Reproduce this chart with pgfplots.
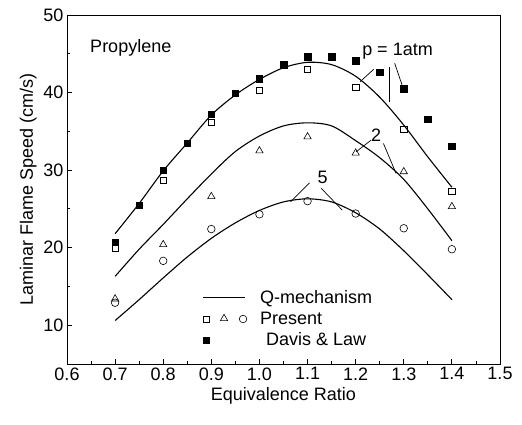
\documentclass[border=0pt]{standalone}
\usepackage{fontspec}
\setmainfont{Liberation Sans}
\usepackage{pgfplots}
\pgfplotsset{compat=1.18}
\newcommand\fs{\fontsize{18bp}{21bp}\selectfont}

\begin{document}
\begin{tikzpicture}[font=\fs]
\useasboundingbox (-67bp,-61bp) rectangle (455bp,364bp);
\begin{axis}[
  scale only axis,
  width=433bp,height=349bp,
  xmin=0.6,xmax=1.5,ymin=5,ymax=50,
  xtick={0.6,0.7,...,1.5},
  ytick={10,20,...,50},
  minor x tick num=1,minor y tick num=1,
  tick align=inside,
  xtick pos=bottom,ytick pos=left,
  major tick length=5bp,minor tick length=3bp,
  axis line style={line width=0.9bp},
  every tick/.style={line width=0.8bp,black},
  /pgf/number format/assume math mode=true,
  x tick label style={font=\fs,/pgf/number format/.cd,fixed,fixed zerofill,precision=1},
  y tick label style={font=\fs},
  xlabel={Equivalence Ratio},
  ylabel={Laminar Flame Speed (cm/s)},
  label style={font=\fs},
  legend cell align=left,
  legend style={draw=none,fill=none,font=\fs,
    at={(axis cs:0.875,14.95)},anchor=north west,
    row sep=4bp,nodes={inner sep=1.5bp}},
]
% Q-mechanism curves
\addplot[black,line width=1.1bp,smooth,
  legend image code/.code={\draw[black,line width=1.1bp] (0bp,0bp) -- (42bp,0bp);
    \path (55bp,0bp);}] coordinates {
 (0.70,21.8)(0.75,25.7)(0.80,29.9)(0.85,33.5)(0.90,37.1)(0.95,39.7)(1.00,41.7)
 (1.05,43.2)(1.10,43.9)(1.15,43.6)(1.20,42.1)(1.25,39.4)(1.30,35.8)(1.35,31.7)(1.40,27.8)};
\addplot[black,line width=1.1bp,smooth,forget plot] coordinates {
 (0.70,16.3)(0.75,19.8)(0.80,23.0)(0.85,26.3)(0.90,29.5)(0.95,32.4)(1.00,34.4)
 (1.05,35.7)(1.10,36.1)(1.15,35.7)(1.20,33.8)(1.25,31.6)(1.30,28.8)(1.35,25.0)(1.40,20.9)};
\addplot[black,line width=1.1bp,smooth,forget plot] coordinates {
 (0.70,10.6)(0.75,13.3)(0.80,16.1)(0.85,18.8)(0.90,21.2)(0.95,23.2)(1.00,24.8)
 (1.05,25.9)(1.10,26.3)(1.15,25.9)(1.20,24.5)(1.25,22.4)(1.30,19.6)(1.35,16.5)(1.40,13.3)};
% Present
\addlegendimage{legend image code/.code={
  \draw[black,line width=0.6bp] plot[mark=square,mark size=3.2bp] coordinates {(3bp,0bp)};
  \draw[black,line width=0.6bp] plot[mark=triangle,mark size=4.2bp] coordinates {(21bp,0.5bp)};
  \draw[black,line width=0.6bp] plot[mark=o,mark size=3.8bp] coordinates {(40bp,0bp)};}}
\addplot[only marks,mark=square,mark size=3.2bp,black,line width=0.6bp,mark options={fill=white},forget plot]
 coordinates {(0.7,20.0)(0.8,28.7)(0.9,36.2)(1.0,40.3)(1.1,43.0)(1.2,40.7)(1.3,35.3)(1.4,27.3)};
\addplot[only marks,mark=triangle,mark size=4.2bp,black,line width=0.6bp,forget plot]
 coordinates {(0.7,13.4)(0.8,20.4)(0.9,26.6)(1.0,32.5)(1.1,34.3)(1.2,32.2)(1.3,29.8)(1.4,25.3)};
\addplot[only marks,mark=o,mark size=3.8bp,black,line width=0.6bp,forget plot]
 coordinates {(0.7,12.9)(0.8,18.3)(0.9,22.4)(1.0,24.3)(1.1,26.0)(1.2,24.4)(1.3,22.5)(1.4,19.8)};
% Davis & Law
\addplot[only marks,mark=square*,mark size=3.2bp,black,
  legend image code/.code={\draw[black] plot[mark=square*,mark size=3.2bp] coordinates {(3bp,0bp)};}]
 coordinates {(0.70,20.7)(0.75,25.5)(0.80,30.0)(0.85,33.5)(0.90,37.2)(0.95,39.9)(1.00,41.8)
 (1.05,43.6)(1.10,44.6)(1.15,44.6)(1.20,44.1)(1.25,42.6)(1.30,40.5)(1.35,36.6)(1.40,33.1)};
\legend{Q-mechanism,Present,\hspace{6bp}Davis \& Law}
% annotations
\node[anchor=west] at (axis cs:0.641,45.8) {Propylene};
\node at (axis cs:1.287,45.3) {p = 1atm};
\draw[black,line width=0.7bp] (axis cs:1.2375,43.0) -- (axis cs:1.2093,41.4);
\draw[black,line width=0.7bp] (axis cs:1.2701,43.25) -- (axis cs:1.2701,38.8);
\draw[black,line width=0.7bp] (axis cs:1.2811,43.77) -- (axis cs:1.2965,40.97);
\node at (axis cs:1.2425,34.5) {2};
\draw[black,line width=0.7bp] (axis cs:1.2322,33.87) -- (axis cs:1.2010,32.36);
\draw[black,line width=0.7bp] (axis cs:1.2577,33.44) -- (axis cs:1.2840,29.57);
\node at (axis cs:1.1311,29.1) {5};
\draw[black,line width=0.7bp] (axis cs:1.1041,28.36) -- (axis cs:1.0647,25.9);
\draw[black,line width=0.7bp] (axis cs:1.1286,27.64) -- (axis cs:1.1722,24.84);
\end{axis}
\end{tikzpicture}
\end{document}
